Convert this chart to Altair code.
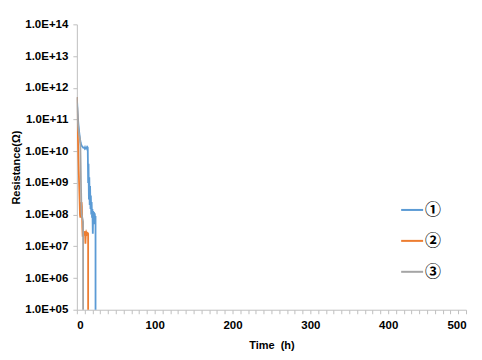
import altair as alt
import pandas as pd

series_names = ["①", "②", "③"]
colors = ["#5B9BD5", "#ED7D31", "#A5A5A5"]

t1 = [0, 0.5, 1, 1.5, 2, 3, 4, 5, 6, 7, 8, 9, 10, 10.5, 11, 12, 12.5, 13, 13.5, 14,
      14.5, 15, 15.5, 16, 16.5, 17, 17.5, 18, 18.5, 19, 19.5, 20, 20.5, 21, 21.5,
      22, 22.5, 23, 23.5, 24, 24]
r1 = [5e11, 3e11, 1.6e11, 1e11, 7e10, 4e10, 2.5e10, 1.8e10, 1.5e10, 1.4e10,
      1.3e10, 1.3e10, 1.2e10, 1.3e10, 1.2e10, 1.25e10, 1.3e10, 1.2e10, 1.35e10, 1.3e10,
      1e9, 4e9, 3e8, 1.5e9, 2e8, 8e8, 1.5e8, 4e8, 1e8, 2.5e8,
      8e7, 1.5e8, 2.5e7, 1.3e8, 6e7, 1.2e8, 5e7, 1.1e8, 7e7, 9e7, 1e3]

t2 = [0, 0.5, 1, 1.5, 2, 2.5, 3, 3.5, 4, 4.5, 5, 5.5, 6, 6.5, 7, 7.5, 8, 8.5, 9,
      10, 10.5, 11, 11.5, 12, 13, 14, 14.5, 14.5]
r2 = [5e11, 2e11, 6e10, 2e10, 6e9, 2e9, 8e8, 3e8, 1e8, 8e7, 1.5e8, 1e8, 2.5e8,
      1.8e8, 4e7, 2e7, 3e7, 2.5e7, 2.8e7, 2.2e7, 3e7, 1.2e7, 2.5e7, 2.8e7, 2.4e7,
      2.6e7, 2.5e7, 1e3]

t3 = [0, 0.3, 0.6, 1, 1.5, 2, 3, 4, 4.5, 5, 5.5, 6, 6.5, 7, 7.5, 8, 8]
r3 = [5e11, 3e11, 1.8e11, 1.1e11, 7e10, 5e10, 3.2e10, 2.4e10, 1.5e10, 3e9, 5e8,
      1.2e8, 9e7, 8e7, 7e7, 6e7, 1e3]

y_ticks = [1e5, 1e6, 1e7, 1e8, 1e9, 1e10, 1e11, 1e12, 1e13, 1e14]
x_ticks = list(range(0, 510, 10))

rows = []
for name, ts, rs in zip(series_names, [t1, t2, t3], [r1, r2, r3]):
    for i, (t, r) in enumerate(zip(ts, rs)):
        rows.append({"series": name, "t": t, "r": r, "idx": i})
df = pd.DataFrame(rows)

axis_common = dict(
    domainColor="#BFBFBF",
    tickColor="#BFBFBF",
    tickSize=4,
    labelFont="Liberation Sans",
    labelFontWeight="bold",
    labelColor="#000000",
    titleFont="Liberation Sans",
    titleFontWeight="bold",
    titleFontSize=11,
    titleColor="#000000",
    grid=False,
)

chart = alt.Chart(df).mark_line(strokeWidth=1.8, clip=True).encode(
    x=alt.X("t:Q",
            scale=alt.Scale(domain=[0, 500], nice=False),
            axis=alt.Axis(title="Time\u00a0\u00a0(h)", values=x_ticks,
                          labelExpr="datum.value % 100 == 0 ? datum.label : ''",
                          labelFontSize=11.5,
                          labelPadding=6, titlePadding=8, **axis_common)),
    y=alt.Y("r:Q",
            scale=alt.Scale(type="log", domain=[1e5, 1e14], nice=False),
            axis=alt.Axis(title="Resistance(Ω)", values=y_ticks,
                          labelExpr="'1.0E+' + (round(log(datum.value)/LN10) < 10 ? '0' : '') + round(log(datum.value)/LN10)",
                          labelFontSize=11.5,
                          labelPadding=5, titlePadding=3, **axis_common)),
    color=alt.Color("series:N",
                    scale=alt.Scale(domain=series_names, range=colors),
                    legend=alt.Legend(title=None, orient="none", legendX=324, legendY=174,
                                      symbolType="stroke", symbolSize=484,
                                      symbolStrokeWidth=2, rowPadding=11,
                                      labelFont="Noto Sans CJK JP", labelFontSize=16,
                                      labelFontWeight="bold", labelColor="#000000",
                                      labelOffset=1)),
    order="idx:Q",
).properties(
    width=390, height=286,
    autosize=alt.AutoSizeParams(type="none"),
    padding={"left": 69, "top": 16, "right": 8, "bottom": 50},
).configure_view(stroke=None)

chart.save("out.html", embed_options={"renderer": "svg", "actions": False})
